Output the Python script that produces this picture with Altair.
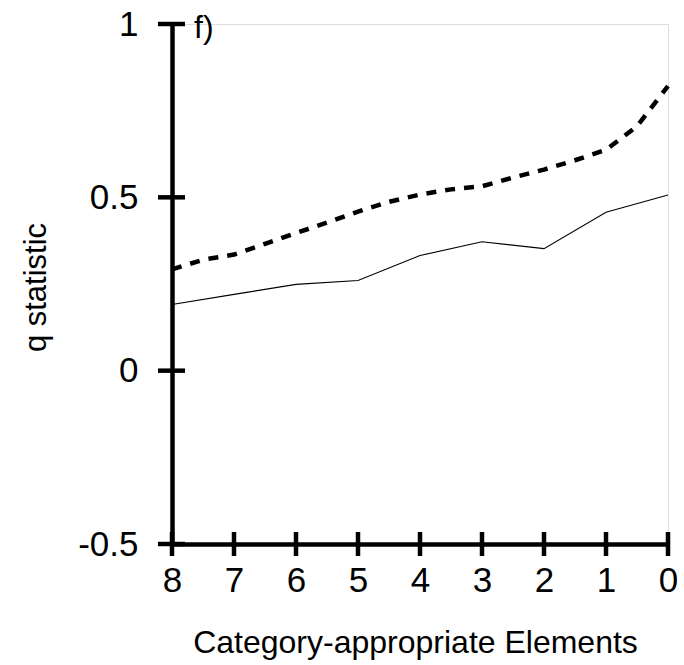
import altair as alt
import pandas as pd

# Series values
elements = [8, 7, 6, 5, 4, 3, 2, 1, 0]
q_solid = [0.191, 0.220, 0.249, 0.260, 0.332, 0.372, 0.352, 0.457, 0.507]

elements_fine = [8, 7.5, 7, 6.5, 6, 5.5, 5, 4.5, 4, 3.5, 3, 2.5, 2, 1.5, 1, 0.5, 0]
q_dashed = [0.292, 0.320, 0.335, 0.366, 0.397, 0.427, 0.459, 0.487, 0.508,
            0.523, 0.532, 0.557, 0.580, 0.607, 0.637, 0.705, 0.821]

# Axis ticks
x_ticks = [8, 7, 6, 5, 4, 3, 2, 1, 0]
y_ticks = [-0.5, 0, 0.5, 1]

FONT = "Liberation Sans"
W, H = 496, 520

solid_df = pd.DataFrame({"e": elements, "q": q_solid})
dashed_df = pd.DataFrame({"e": elements_fine, "q": q_dashed})
xt_df = pd.DataFrame({"e": x_ticks})
yt_df = pd.DataFrame({"q": y_ticks})

x_scale = alt.Scale(domain=[0, 8], reverse=True, nice=False, zero=False)
y_scale = alt.Scale(domain=[-0.5, 1], nice=False, zero=False)

x_axis = alt.Axis(
    values=x_ticks, ticks=False, grid=False, labelFont=FONT, labelFontSize=35,
    labelColor="black", labelPadding=19, labelOverlap=False, labelFlush=False,
    labelExpr="toString(datum.value)",
    domainColor="black", domainWidth=4.5,
    title="Category-appropriate Elements", titleFont=FONT, titleFontSize=32,
    titleFontWeight="normal", titleColor="black", titleX=243, titleY=108,
    titleBaseline="alphabetic", titleAlign="center",
)
y_axis = alt.Axis(
    values=y_ticks, ticks=False, grid=False, labelFont=FONT, labelFontSize=35,
    labelColor="black", labelPadding=34, labelOverlap=False, labelFlush=False,
    labelExpr="toString(datum.value)",
    domainColor="black", domainWidth=4.5,
    title="q statistic", titleFont=FONT, titleFontSize=31,
    titleFontWeight="normal", titleColor="black", titleX=-136, titleY=263,
    titleAngle=-90, titleBaseline="middle", titleAlign="center",
)

solid = alt.Chart(solid_df).mark_line(color="black", strokeWidth=1.1).encode(
    x=alt.X("e:Q", scale=x_scale, axis=x_axis),
    y=alt.Y("q:Q", scale=y_scale, axis=y_axis),
)

dashed = alt.Chart(dashed_df).mark_line(
    color="black", strokeWidth=4.5, strokeDash=[10, 9], strokeCap="butt"
).encode(
    x=alt.X("e:Q", scale=x_scale),
    y=alt.Y("q:Q", scale=y_scale),
)

# Tick marks that cross the axis lines on both sides
x_tick_marks = alt.Chart(xt_df).mark_rule(color="black", strokeWidth=4.5).encode(
    x=alt.X("e:Q", scale=x_scale),
    y=alt.value(H - 12),
    y2=alt.value(H + 12),
)
y_tick_marks = alt.Chart(yt_df).mark_rule(color="black", strokeWidth=4.5).encode(
    y=alt.Y("q:Q", scale=y_scale),
    x=alt.value(-14),
    x2=alt.value(13),
)

panel_label = alt.Chart(pd.DataFrame({"t": ["f)"]})).mark_text(
    font=FONT, fontSize=32, color="black", align="left", baseline="middle"
).encode(x=alt.value(22), y=alt.value(4), text="t:N")

chart = alt.layer(solid, dashed, x_tick_marks, y_tick_marks, panel_label).properties(
    width=W, height=H,
    autosize=alt.AutoSizeParams(type="none"),
    padding={"left": 172, "top": 24, "right": 16, "bottom": 121},
).configure_view(stroke=None).configure(background="white")

chart.save("out.html", embed_options={"renderer": "svg", "actions": False})
